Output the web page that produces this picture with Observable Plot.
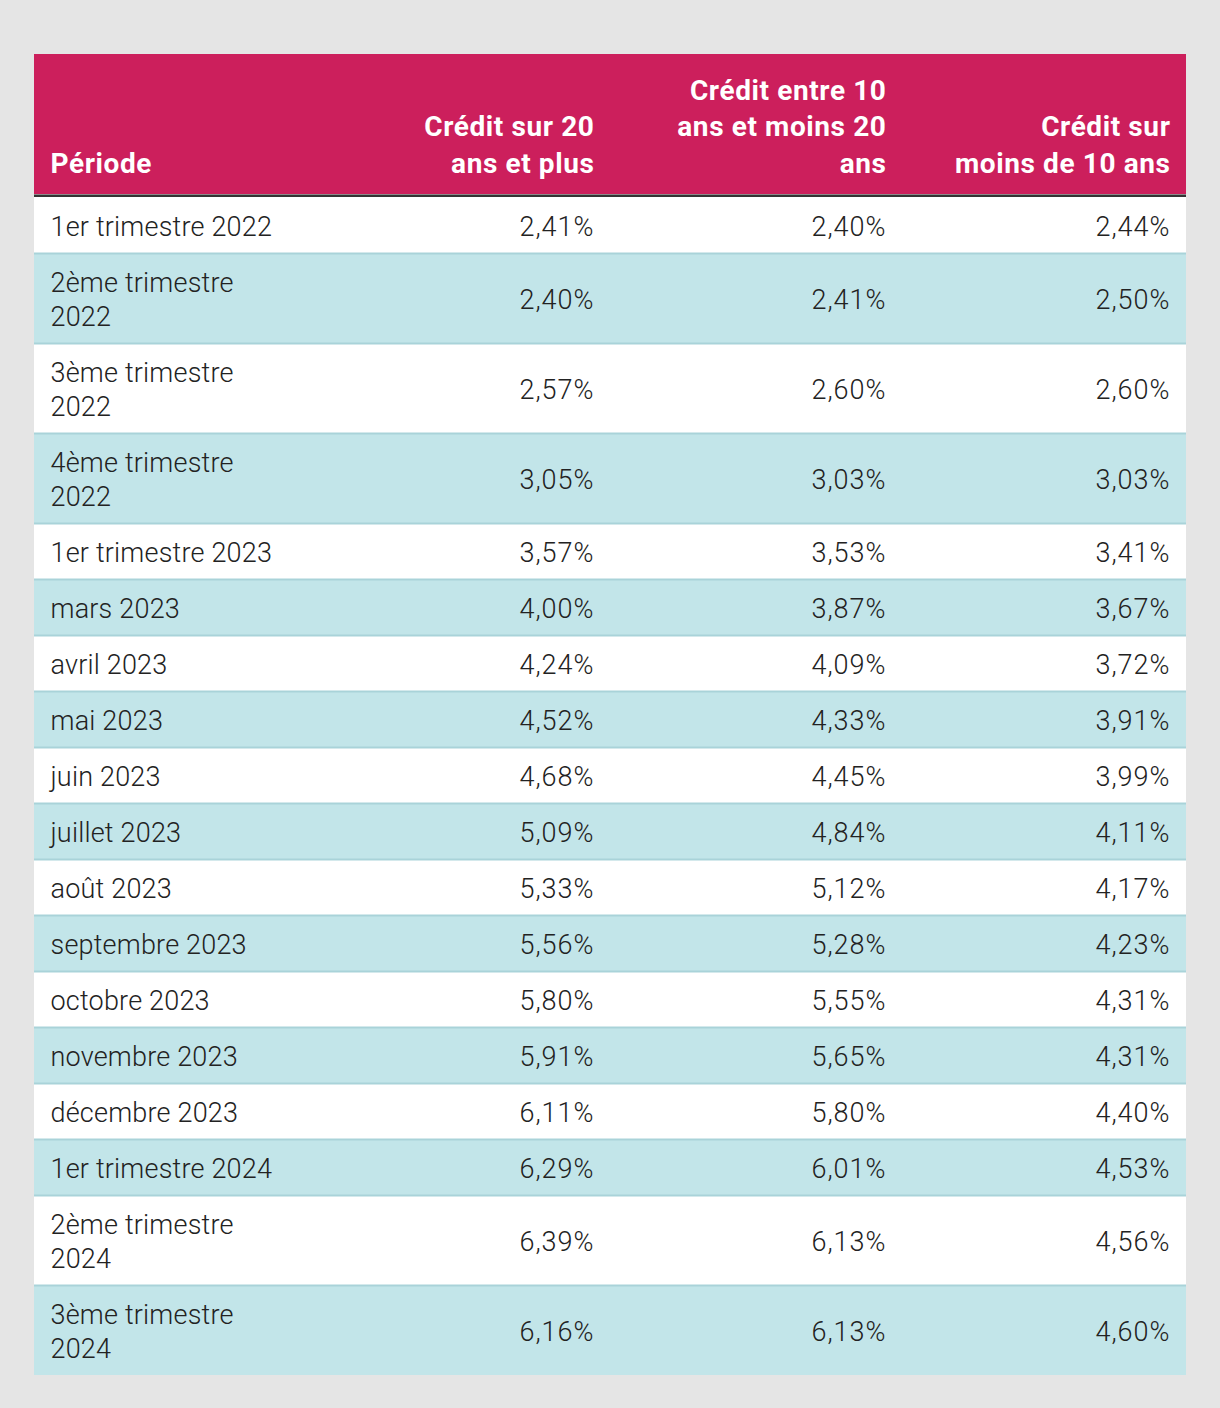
<!DOCTYPE html>
<html>
<head>
<meta charset="utf-8">
<script src="https://cdn.jsdelivr.net/npm/d3@7"></script>
<script src="https://cdn.jsdelivr.net/npm/@observablehq/plot@0.6"></script>
<style>
  html, body { margin: 0; padding: 0; background: #e5e5e5; }
  #chart svg { display: block; background: #e5e5e5; }
  #chart svg g.head text { letter-spacing: 0.6px; }
  #chart svg g.period text { letter-spacing: 0.2px; }
  #chart svg g.val text { letter-spacing: 1px; }
</style>
</head>
<body>
<div id="chart"></div>
<script>
// ---- Data ----
const periods = [
  "1er trimestre 2022",
  "2ème trimestre\n2022",
  "3ème trimestre\n2022",
  "4ème trimestre\n2022",
  "1er trimestre 2023",
  "mars 2023",
  "avril 2023",
  "mai 2023",
  "juin 2023",
  "juillet 2023",
  "août 2023",
  "septembre 2023",
  "octobre 2023",
  "novembre 2023",
  "décembre 2023",
  "1er trimestre 2024",
  "2ème trimestre\n2024",
  "3ème trimestre\n2024"
];
const rate20plus = [2.41, 2.40, 2.57, 3.05, 3.57, 4.00, 4.24, 4.52, 4.68, 5.09, 5.33, 5.56, 5.80, 5.91, 6.11, 6.29, 6.39, 6.16];
const rate10to20 = [2.40, 2.41, 2.60, 3.03, 3.53, 3.87, 4.09, 4.33, 4.45, 4.84, 5.12, 5.28, 5.55, 5.65, 5.80, 6.01, 6.13, 6.13];
const rateUnder10 = [2.44, 2.50, 2.60, 3.03, 3.41, 3.67, 3.72, 3.91, 3.99, 4.11, 4.17, 4.23, 4.31, 4.31, 4.40, 4.53, 4.56, 4.60];
const headers = [
  "Période",
  "Crédit sur 20\nans et plus",
  "Crédit entre 10\nans et moins 20\nans",
  "Crédit sur\nmoins de 10 ans"
];

// ---- Layout ----
const W = 1220, H = 1408;
const left = 34, right = 1186;
const headTop = 54, headBottom = 194, bodyTop = 197;
const colRight = [null, 610, 902, 1186];
const pad = 16;
const fmt = v => d3.format(".2f")(v).replace(".", ",") + "%";

let cursor = bodyTop;
const rows = periods.map((p, i) => {
  const lines = p.split("\n").length;
  const h = 22 + 34 * lines;
  const r = {i, period: p, y1: cursor, y2: cursor + h, ym: cursor + h / 2,
             values: [rate20plus[i], rate10to20[i], rateUnder10[i]]};
  cursor += h;
  return r;
});

const cells = rows.flatMap(r => r.values.map((v, j) => ({col: j + 1, v, ym: r.ym})));
const heads = headers.map((h, j) => ({text: h, col: j}));

const font = "Roboto, 'Noto Sans', sans-serif";
const bodyFill = "#222222";

const chart = Plot.plot({
  width: W,
  height: H,
  margin: 0,
  style: {fontFamily: font, background: "#e5e5e5"},
  x: {domain: [0, W], range: [0, W], axis: null},
  y: {domain: [0, H], range: [0, H], axis: null},
  marks: [
    // header band
    Plot.rect([0], {x1: left, x2: right, y1: headTop, y2: headBottom, fill: "#cc1f5c"}),
    Plot.ruleY([headBottom + 1.5], {x1: left, x2: right, stroke: "#333333", strokeWidth: 3}),
    // body rows
    Plot.rect(rows, {x1: left, x2: right, y1: "y1", y2: "y2",
      fill: d => d.i % 2 === 0 ? "#ffffff" : "#c2e5e9"}),
    Plot.ruleY(rows.slice(1), {y: d => d.y1, x1: left, x2: right, stroke: "#a9d3d9", strokeWidth: 2}),
    // header text
    Plot.text(heads.filter(d => d.col === 0), {
      x: left + pad, y: 172, text: "text",
      textAnchor: "start", lineAnchor: "bottom", lineHeight: 1.29,
      fontSize: 28, fontWeight: "bold", fill: "#ffffff", className: "head"
    }),
    Plot.text(heads.filter(d => d.col > 0), {
      x: d => colRight[d.col] - pad, y: 172, text: "text",
      textAnchor: "end", lineAnchor: "bottom", lineHeight: 1.29,
      fontSize: 28, fontWeight: "bold", fill: "#ffffff", className: "head"
    }),
    // period labels
    Plot.text(rows, {
      x: left + pad, y: "ym", text: "period",
      textAnchor: "start", lineAnchor: "middle", lineHeight: 1.26,
      fontSize: 27, fontWeight: 300, fill: bodyFill, className: "period"
    }),
    // values
    Plot.text(cells, {
      x: d => colRight[d.col] - pad, y: "ym", text: d => fmt(d.v),
      textAnchor: "end", lineAnchor: "middle", lineHeight: 1.26,
      fontSize: 27, fontWeight: 300, fill: bodyFill, className: "val"
    })
  ]
});
document.getElementById("chart").appendChild(chart);
</script>
</body>
</html>
